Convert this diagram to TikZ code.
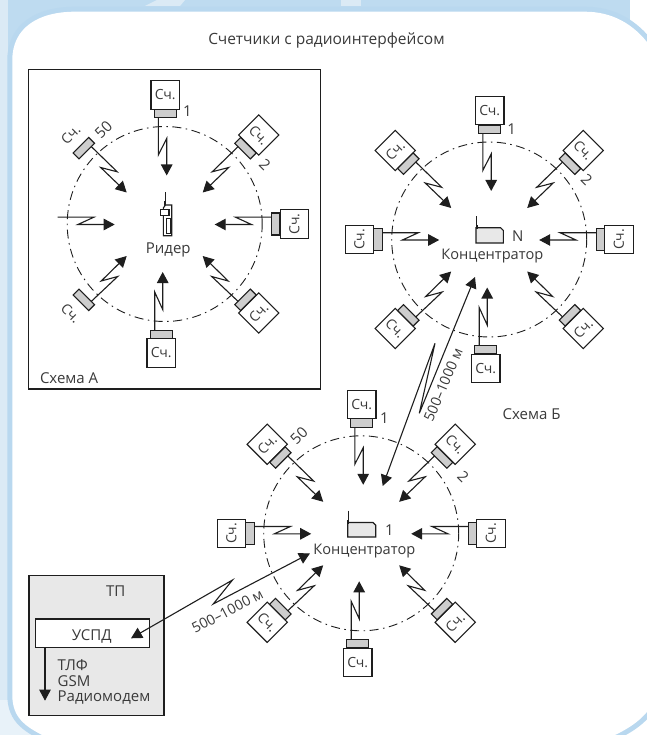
\documentclass[tikz,border=0pt]{standalone}
\usepackage{fontspec}
\setmainfont{Open Sans}
\usetikzlibrary{arrows.meta}
\definecolor{bandblue}{HTML}{BEDBF0}
\definecolor{bandedge}{HTML}{B9D8EF}
\definecolor{bandlight}{HTML}{DBEAF5}
\definecolor{bandpale}{HTML}{E8F2F9}
\definecolor{inkline}{HTML}{1E1E1E}
\definecolor{inktext}{HTML}{3A3A3A}
\definecolor{metergray}{HTML}{CDCDCD}
\definecolor{panelgray}{HTML}{E8E8E8}
\newcommand{\txtsize}{\fontsize{15}{17}\selectfont}
\tikzset{
  base/.style={inner sep=0pt,outer sep=0pt,text=inktext,font=\txtsize},
  lowered/.style={base,yshift=-1.5pt},
  titletext/.style={base,yshift=-2pt,font=\fontsize{15.5}{17}\selectfont},
  hubtext/.style={base,yshift=-1.5pt,font=\fontsize{14.6}{17}\selectfont},
  rangetext/.style={base,font=\fontsize{14.2}{17}\selectfont},
  metbox/.style={draw=inkline,line width=1.1pt,fill=white,minimum size=28.5pt,inner sep=0pt,outer sep=0pt},
  metnobox/.style={draw=none,minimum size=28.5pt,inner sep=0pt,outer sep=0pt},
  metgray/.style={draw=inkline,line width=1.1pt,fill=metergray,minimum width=22pt,minimum height=8.3pt,inner sep=0pt,outer sep=0pt},
  mettext/.style={base,font=\fontsize{14}{16}\selectfont},
  ring/.style={circle,draw=inkline,line width=0.9pt,inner sep=0pt,outer sep=0pt,minimum size=195pt,dash pattern=on 9pt off 4.5pt on 1.5pt off 4.5pt},
  zigline/.style={draw=inkline,line width=1.1pt,line join=miter,-{Triangle[length=11pt,width=11.5pt]}},
  longline/.style={draw=inkline,line width=1.1pt,{Triangle[length=11pt,width=11.5pt]}-{Triangle[length=11pt,width=11.5pt]}},
  framebox/.style={draw=inkline,line width=1.2pt},
  hubicon/.style={draw=inkline,line width=1.1pt,fill=panelgray},
}
\newcommand{\panelpath}{(12.3,60) .. controls (12.3,28) and (38,11.7) .. (75,11.7)
  -- (585,11.7) .. controls (612,11.7) and (634,24) .. (650,46)
  -- (650,708) .. controls (640,722) and (625,731) .. (606,739)
  -- (50,739) .. controls (28,728) and (12.3,720) .. (12.3,695) -- cycle}
% [box style]{id}{relx}{rely}{rotation cw}{text rotation ccw}
\newcommand{\placemeter}[6][metbox]{%
  \pgfmathsetmacro\gxx{#3-18.65*sin(#5)}%
  \pgfmathsetmacro\gyy{#4+18.65*cos(#5)}%
  \node[#1,rotate=-#5] (#2b) at (#3,#4) {};
  \node[metgray,rotate=-#5] (#2g) at (\gxx,\gyy) {};
  \node[mettext,rotate=#6] (#2t) at (#2b.center) {Сч.};
}
% {id}{start}{p1}{p2}{tip}
\newcommand{\zig}[5]{%
  \coordinate (#1s) at #2; \coordinate (#1p) at #3; \coordinate (#1q) at #4; \coordinate (#1e) at #5;
  \draw[zigline] (#1s) -- (#1p) -- (#1q) -- (#1e);
}
% {prefix}
\newcommand{\alllinks}[1]{%
  \zig{#1zt}{(-6.4,-106)}{(-6.4,-69)}{(2,-85.5)}{(2,-48.5)}
  \zig{#1zur}{(73.5,-77.5)}{(47.5,-52.2)}{(64,-56.5)}{(38,-31.5)}
  \zig{#1zul}{(-73.5,-77.5)}{(-47.5,-52.2)}{(-64,-56.5)}{(-38,-31.5)}
  \zig{#1zr}{(107,-6.8)}{(70.8,-6.8)}{(86.8,0.5)}{(50,0.5)}
  \zig{#1zl}{(-107,-6.8)}{(-70.8,-6.8)}{(-86.8,0.5)}{(-50,0.5)}
  \zig{#1zlr}{(73.5,77.5)}{(47,52.5)}{(63.5,57)}{(38,32)}
  \zig{#1zll}{(-73.5,77.5)}{(-47,52.5)}{(-63.5,57)}{(-38,32)}
  \zig{#1zb}{(-10,106)}{(-10,68)}{(-2,85.5)}{(-2,48)}
}
% {prefix}{UL style}{LL style}
\newcommand{\allmeters}[3]{%
  \placemeter{#1t}{0.5}{-129}{0}{0}
  \placemeter{#1ur}{94}{-89}{45}{-45}
  \placemeter[#2]{#1ul}{-94}{-89}{-45}{45}
  \placemeter{#1r}{129.8}{0}{90}{90}
  \placemeter{#1lr}{94}{89}{135}{45}
  \placemeter[#3]{#1ll}{-94}{89}{-135}{-45}
  \placemeter{#1bt}{-3.5}{129}{180}{0}
}
\begin{document}
\begin{tikzpicture}[x=1pt,y=-1pt]
\useasboundingbox (0,0) rectangle (646,735);
% background
\fill[white] (0,0) rectangle (646,735);
\fill[bandlight] (0,0) rectangle (8,735);
\fill[bandpale] (0,700) rectangle (40,735);
\fill[bandblue] (8,0) rectangle (630,40);
\fill[bandblue] (8,0) rectangle (14,80);
\fill[bandlight] (157,0) -- (145,6) -- (180,6) -- (185,0) -- cycle;
\fill[bandlight] (341,0) rectangle (361,6);
\path[draw=bandedge,line width=10pt] \panelpath;
\path[fill=white] \panelpath;
% title
\node[titletext] (title) at (326.5,38.5) {Счетчики с радиоинтерфейсом};
% scheme A frame
\draw[framebox] (28.7,69.5) rectangle (320.7,389);
\node[lowered,anchor=west] (schemaA) at (40,376.5) {Схема А};
\node[lowered] (schemaB) at (531.5,412.5) {Схема Б};
% circle A
\begin{scope}[shift={(164.7,224)}]
  \node[ring] (aring) at (0,0) {};
  \allmeters{a}{metnobox}{metnobox}
  \alllinks{a}
\end{scope}
\node[base] (a1) at (187.5,111.5) {1};
\node[base,rotate=-45] (a2) at (265,165) {2};
\node[base,rotate=45] (a50) at (103.5,129.5) {50};
% reader
\draw[inkline,line width=1pt] (165,192.5) -- (165,201);
\draw[inkline,line width=2pt] (165,201) -- (165,206);
\path[draw=inkline,line width=1.1pt,fill=white] (163.3,235.7) -- (163.3,208) -- (165.5,205) -- (171.7,205) -- (171.7,235.7) -- cycle;
\draw[inkline,line width=1.1pt,fill=white] (160.7,209.5) rectangle (169,215.5);
\draw[inkline,line width=1.1pt,fill=white] (166.7,218.5) rectangle (170.7,233.3);
\node[lowered] (reader) at (168.3,248.5) {Ридер};
% circle B
\begin{scope}[shift={(489.2,239.5)}]
  \node[ring] (bring) at (0,0) {};
  \allmeters{b}{metbox}{metbox}
  \placemeter{bl}{-129.8}{0}{-90}{90}
  \alllinks{b}
\end{scope}
\node[base] (b1) at (511.7,129) {1};
\node[base,rotate=-45] (b2) at (586.7,180) {2};
\node[base] (bN) at (517.7,235.7) {N};
\path[hubicon] (476,227.7) -- (500.5,227.7) -- (503.3,230.5) -- (503.3,243) -- (476,243) -- cycle;
\draw[inkline,line width=1pt] (476.7,216.5) -- (476.7,225);
\draw[inkline,line width=2pt] (476.7,225) -- (476.7,229);
\node[hubtext] (bhub) at (492.3,255) {Концентратор};
% circle C
\begin{scope}[shift={(361.2,533.3)}]
  \node[ring] (cring) at (0,0) {};
  \allmeters{c}{metbox}{metbox}
  \placemeter{cl}{-129.8}{0}{-90}{90}
  \alllinks{c}
\end{scope}
\node[base] (c1) at (384.3,418.3) {1};
\node[base,rotate=-45] (c2) at (463.3,476.7) {2};
\node[base,rotate=45] (c50) at (299,436) {50};
\node[base] (c1b) at (389.3,530) {1};
\path[hubicon] (347.7,522.5) -- (373,522.5) -- (375.7,525.2) -- (375.7,537) -- (347.7,537) -- cycle;
\draw[inkline,line width=1pt] (348.3,510.7) -- (348.3,519.5);
\draw[inkline,line width=2pt] (348.3,519.5) -- (348.3,524);
\node[hubtext] (chub) at (364.3,549.3) {Концентратор};
% TP
\node[draw=inkline,line width=1.2pt,fill=panelgray,minimum width=135pt,minimum height=140pt,inner sep=0pt,outer sep=0pt] (tp) at (96.5,645.7) {};
\node[lowered] (tplabel) at (115.7,589.3) {ТП};
\node[draw=inkline,line width=1.2pt,fill=white,minimum width=113.6pt,minimum height=28.3pt,inner sep=0pt,outer sep=0pt] (uspd) at (92.5,633.2) {};
\node[lowered] (uspdlabel) at (91.7,635) {УСПД};
\coordinate (uspdout) at (45,647.3);
\coordinate (uspdend) at (45,700.7);
\draw[zigline] (uspdout) -- (uspdend);
\node[lowered,anchor=west] (tlf) at (57.7,663.3) {ТЛФ};
\node[lowered,anchor=west] (gsm) at (57.7,679.3) {GSM};
\node[lowered,anchor=west] (modem) at (57.7,696) {Радиомодем};
% long links
\coordinate (bctop) at (475,277);
\coordinate (bcz1) at (419.3,413.3);
\coordinate (bcz2) at (435,343.3);
\coordinate (bcbot) at (382.7,486);
\draw[longline] (bctop) -- (bcz1) -- (bcz2) -- (bcbot);
\node[rangetext,rotate=67] (bclabel) at (443.3,385) {500–1000 м};
\coordinate (cutop) at (310,553.3);
\coordinate (cuz1) at (213.2,604);
\coordinate (cuz2) at (232.5,580);
\coordinate (cubot) at (131,638.3);
\draw[longline] (cutop) -- (cuz1) -- (cuz2) -- (cubot);
\node[rangetext,rotate=27.5] (culabel) at (227.5,611) {500–1000 м};
\end{tikzpicture}
\end{document}
